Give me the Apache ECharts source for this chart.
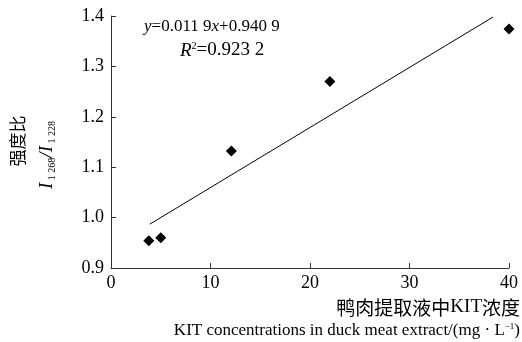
<!DOCTYPE html>
<html><head><meta charset="utf-8">
<script src="https://cdn.jsdelivr.net/npm/echarts@6/dist/echarts.min.js"></script>
<style>html,body{margin:0;padding:0;background:#fff}#c{width:522px;height:342px}</style>
</head><body><div id="c"></div>
<script>
var xValues = [3.8, 5.0, 12.1, 22.0, 40.0];
var yValues = [0.954, 0.960, 1.132, 1.270, 1.374];
var fitX = [3.9, 38.4];
var fitY = [0.987, 1.398];
var xTicks = [0, 10, 20, 30, 40];
var yTicks = [0.9, 1.0, 1.1, 1.2, 1.3, 1.4];

var serif = '"Liberation Serif", serif';
var cjkFont = '"Noto Sans CJK SC", sans-serif';
var chart = echarts.init(document.getElementById('c'), null, {renderer: 'canvas'});
var axisCol = '#333';
chart.setOption({
  animation: false,
  textStyle: {fontFamily: serif},
  grid: {left: 111, right: 13, top: 16, bottom: 74},
  xAxis: {
    type: 'value', min: xTicks[0], max: xTicks[xTicks.length-1], interval: 10,
    axisLine: {lineStyle: {color: axisCol, width: 1}},
    axisTick: {inside: true, length: 5, lineStyle: {color: axisCol}},
    splitLine: {show: false},
    axisLabel: {color: '#000', fontFamily: serif, fontSize: 18, margin: 6}
  },
  yAxis: {
    type: 'value', min: yTicks[0], max: yTicks[yTicks.length-1], interval: 0.1,
    axisLine: {show: true, lineStyle: {color: axisCol, width: 1}},
    axisTick: {show: true, inside: true, length: 5, lineStyle: {color: axisCol}},
    splitLine: {show: false},
    axisLabel: {color: '#000', fontFamily: serif, fontSize: 18, margin: 7,
      formatter: function(v){ return v.toFixed(1); }}
  },
  series: [
    {type: 'scatter', symbol: 'diamond', symbolSize: 11, itemStyle: {color: '#000', opacity: 1},
     data: xValues.map(function(x,i){ return [x, yValues[i]]; })},
    {type: 'line', symbol: 'none', lineStyle: {color: '#000', width: 1},
     data: fitX.map(function(x,i){ return [x, fitY[i]]; })}
  ],
  graphic: [
    {type: 'text', left: 144, top: 18, style: {
      text: '{i|y}{n|=0.011 9}{i|x}{n|+0.940 9}', fontFamily: serif, fontSize: 17,
      rich: {i: {fontFamily: serif, fontStyle: 'italic', fontSize: 17, fill: '#000'},
             n: {fontFamily: serif, fontSize: 17, fill: '#000'}}}},
    {type: 'text', left: 180, top: 41, style: {
      text: '{i|R}{s|2}{n|=0.923 2}', fontFamily: serif, fontSize: 19,
      rich: {i: {fontFamily: serif, fontStyle: 'italic', fontSize: 19, fill: '#000'},
             s: {fontFamily: serif, fontSize: 10, fill: '#000', verticalAlign: 'top'},
             n: {fontFamily: serif, fontSize: 19, fill: '#000'}}}},
    {type: 'text', x: 18, y: 141, rotation: Math.PI/2, style: {
      text: '强度比', fontFamily: cjkFont, fontSize: 17, fill: '#000', align: 'center', verticalAlign: 'middle'}},
    {type: 'text', x: 47, y: 155, rotation: Math.PI/2, style: {
      text: '{i|I}{s| 1 268}{i|/I}{s| 1 228}', align: 'center', verticalAlign: 'middle', fontFamily: serif, fontSize: 19,
      rich: {i: {fontFamily: serif, fontStyle: 'italic', fontSize: 19, fill: '#000', lineHeight: 20},
             s: {fontFamily: serif, fontSize: 10, fill: '#000', verticalAlign: 'bottom', lineHeight: 20}}}},
    {type: 'text', right: 2, top: 298, style: {
      text: '鸭肉提取液中{n|KIT}浓度', fontFamily: cjkFont, fontSize: 19, fill: '#000',
      rich: {n: {fontFamily: serif, fontSize: 19, fill: '#000'}}}},
    {type: 'text', right: 2, top: 322, style: {
      text: 'KIT concentrations in duck meat extract/(mg · L{s|−1})', fontFamily: serif, fontSize: 17, fill: '#000',
      rich: {s: {fontFamily: serif, fontSize: 9, fill: '#000', verticalAlign: 'top'}}}}
  ]
});
</script></body></html>
